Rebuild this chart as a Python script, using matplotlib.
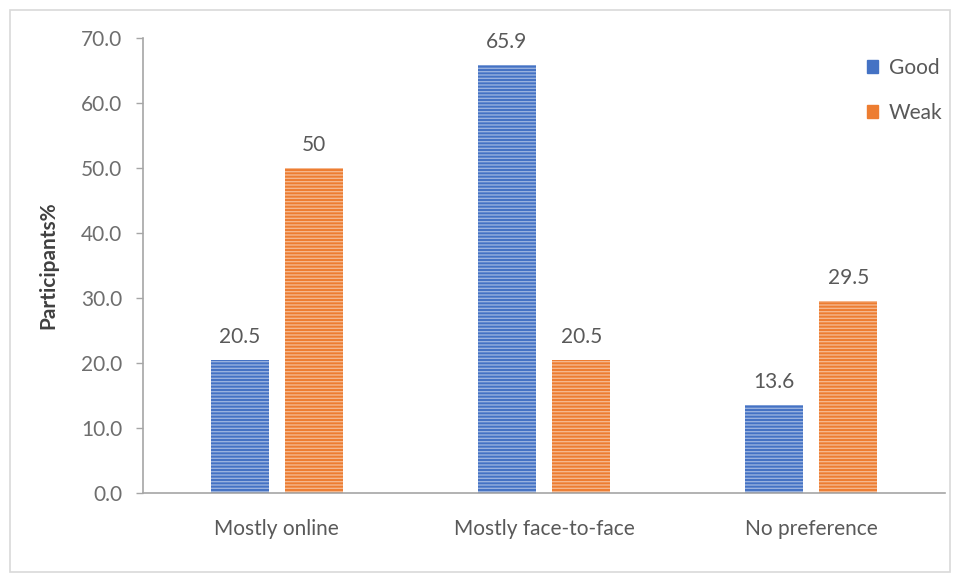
import matplotlib.pyplot as plt
import matplotlib as mpl
import numpy as np
from matplotlib.patches import Rectangle

categories = ["Mostly online", "Mostly face-to-face", "No preference"]
good = [20.5, 65.9, 13.6]
weak = [50, 20.5, 29.5]
good_labels = ["20.5", "65.9", "13.6"]
weak_labels = ["50", "20.5", "29.5"]
yticks = [0, 10, 20, 30, 40, 50, 60, 70]

plt.rcParams['font.family'] = ['Lato', 'DejaVu Sans']
plt.rcParams['hatch.linewidth'] = 1.0

fig = plt.figure(figsize=(9.6, 5.8), dpi=100)
ax = fig.add_axes([143/960, 1 - 493/580, (945 - 143)/960, (493 - 38)/580])

# outer chart frame
fig.patches.append(Rectangle((10/960, 8/580), 940/960, 562/580, transform=fig.transFigure,
                             fill=False, edgecolor='#d9d9d9', linewidth=1.2))

x = np.arange(len(categories))
w = 0.217
off = 0.139
blue = '#4472C4'
orange = '#ED7D31'

b1 = ax.bar(x - off, good, w, color=blue, hatch='-----', linewidth=0)
b2 = ax.bar(x + off, weak, w, color=orange, hatch='-----', linewidth=0)
for bars in (b1, b2):
    for b in bars:
        b._hatch_color = mpl.colors.to_rgba('#ffffff', 0.45)

for xi, v, t in zip(x - off, good, good_labels):
    ax.text(xi, v + 2.0, t, ha='center', va='bottom', fontsize=15, color='#595959')
for xi, v, t in zip(x + off, weak, weak_labels):
    ax.text(xi, v + 2.0, t, ha='center', va='bottom', fontsize=15, color='#595959')

ax.set_xlim(-0.5, 2.5)
ax.set_ylim(0, 70)
ax.set_yticks(yticks)
ax.set_yticklabels([f"{t:.1f}" for t in yticks], fontsize=15, color='#6e6e6e')
ax.set_xticks(x)
ax.set_xticklabels(categories, fontsize=15, color='#595959')
ax.tick_params(axis='x', length=0, pad=19)
ax.tick_params(axis='y', length=5, width=1, color='#a6a6a6', pad=10, direction='out')

for s in ['top', 'right']:
    ax.spines[s].set_visible(False)
ax.spines['left'].set_color('#a6a6a6')
ax.spines['bottom'].set_color('#a6a6a6')
ax.spines['left'].set_linewidth(1.2)
ax.spines['bottom'].set_linewidth(1.2)

ax.set_ylabel("Participants%", fontsize=15, fontweight='bold', color='#404040', labelpad=16)

handles = [Rectangle((0, 0), 1, 1, color=blue), Rectangle((0, 0), 1, 1, color=orange)]
leg = ax.legend(handles, ['Good', 'Weak'], loc='upper right', bbox_to_anchor=(1.02, 0.997),
                frameon=False, fontsize=15, labelspacing=1.2, handlelength=0.55, handleheight=0.55,
                handletextpad=0.5, labelcolor='#595959')

fig.savefig('out.png', dpi=100)
